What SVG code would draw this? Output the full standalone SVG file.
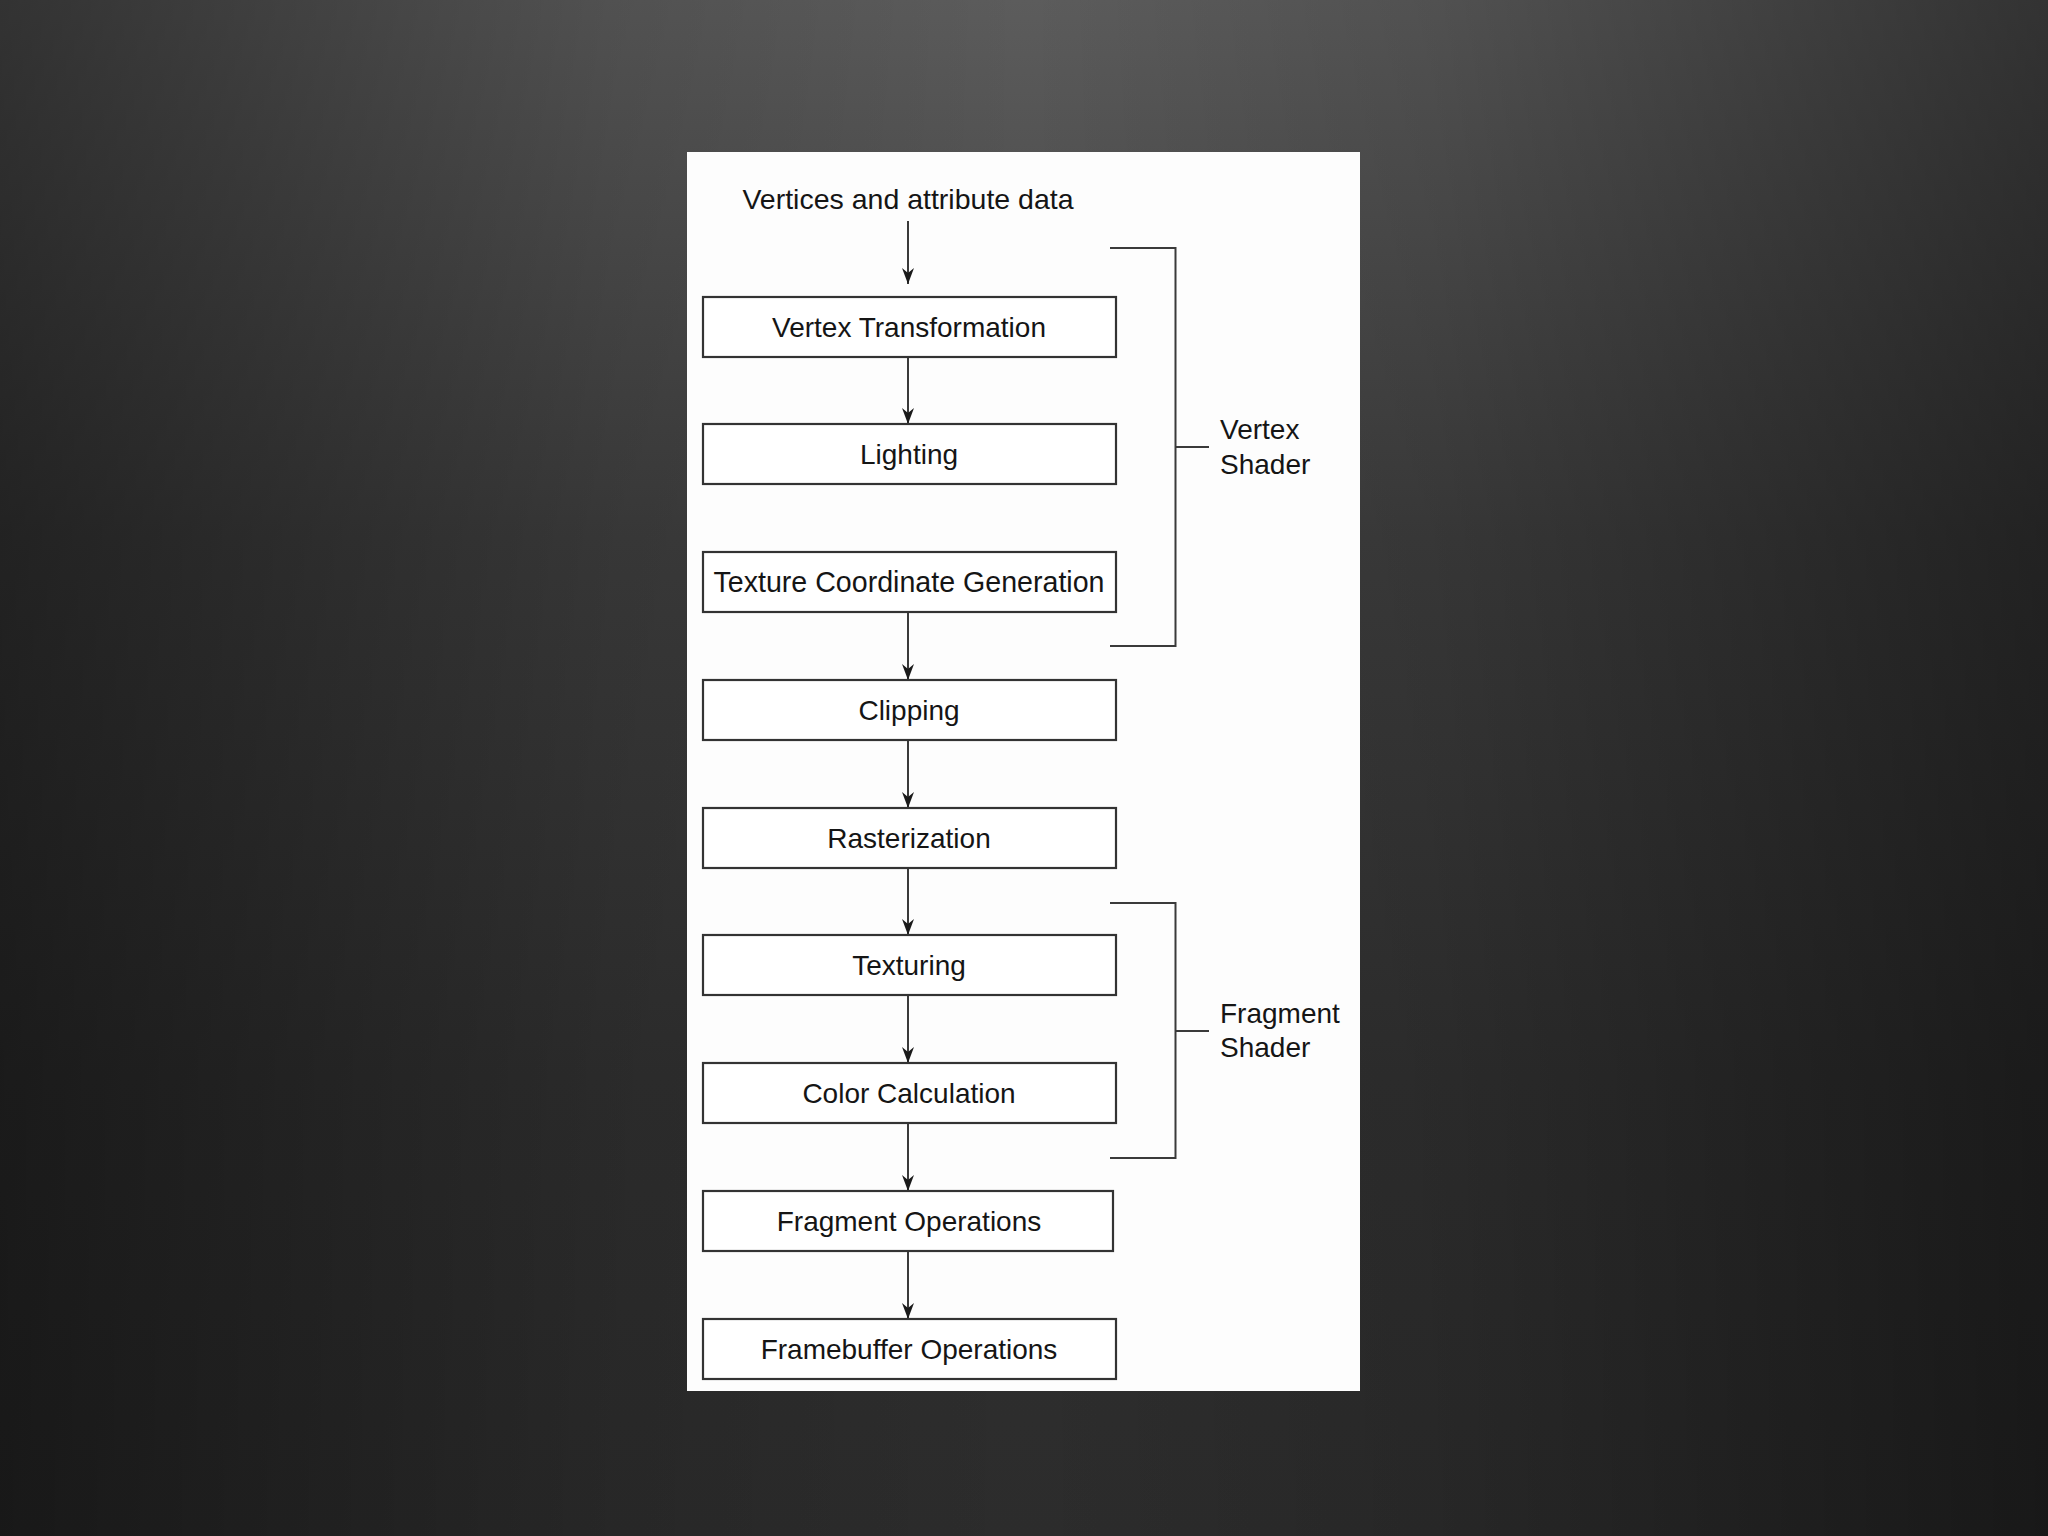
<svg xmlns="http://www.w3.org/2000/svg" width="2048" height="1536" viewBox="0 0 2048 1536">
  <defs>
    <linearGradient id="bgv" x1="0" y1="0" x2="0" y2="1">
      <stop offset="0" stop-color="#5c5c5c"/>
      <stop offset="0.35" stop-color="#3e3e3e"/>
      <stop offset="0.7" stop-color="#303030"/>
      <stop offset="1" stop-color="#2c2c2c"/>
    </linearGradient>
    <linearGradient id="bgh" x1="0" y1="0" x2="1" y2="0">
      <stop offset="0" stop-color="#000" stop-opacity="0.45"/>
      <stop offset="0.3" stop-color="#000" stop-opacity="0.12"/>
      <stop offset="0.5" stop-color="#000" stop-opacity="0"/>
      <stop offset="0.7" stop-color="#000" stop-opacity="0.12"/>
      <stop offset="1" stop-color="#000" stop-opacity="0.45"/>
    </linearGradient>
    <marker id="arrow" markerUnits="userSpaceOnUse" markerWidth="18" markerHeight="14" viewBox="-17 -7 18 14" refX="0" refY="0" orient="auto">
      <path d="M0,0 L-16,-6 L-11,0 L-16,6 Z" fill="#1a1a1a"/>
    </marker>
    <style>
      .box { fill: #ffffff; stroke: #333333; stroke-width: 2.2; }
      .lbl { font-family: "Liberation Sans", Arial, sans-serif; font-size: 28px; fill: #151515; text-anchor: middle; }
      .side { font-family: "Liberation Sans", Arial, sans-serif; font-size: 28px; fill: #151515; }
      .conn { stroke: #3a3a3a; stroke-width: 2; fill: none; }
    </style>
  </defs>
  <rect x="0" y="0" width="2048" height="1536" fill="url(#bgv)"/>
  <rect x="0" y="0" width="2048" height="1536" fill="url(#bgh)"/>
  <rect x="687" y="152" width="673" height="1239" fill="#fdfdfd"/>

  <text class="lbl" x="908" y="209" style="font-size:28.5px">Vertices and attribute data</text>

  <g id="connectors">
    <line class="conn" x1="908" y1="221" x2="908" y2="284" marker-end="url(#arrow)"/>
    <line class="conn" x1="908" y1="357" x2="908" y2="424" marker-end="url(#arrow)"/>
    <line class="conn" x1="908" y1="612" x2="908" y2="680" marker-end="url(#arrow)"/>
    <line class="conn" x1="908" y1="740" x2="908" y2="808" marker-end="url(#arrow)"/>
    <line class="conn" x1="908" y1="868" x2="908" y2="935" marker-end="url(#arrow)"/>
    <line class="conn" x1="908" y1="995" x2="908" y2="1063" marker-end="url(#arrow)"/>
    <line class="conn" x1="908" y1="1123" x2="908" y2="1191" marker-end="url(#arrow)"/>
    <line class="conn" x1="908" y1="1251" x2="908" y2="1319" marker-end="url(#arrow)"/>
  </g>

  <g id="vertex-shader-bracket">
    <path class="conn" d="M1110,248 H1175.5 V646 H1110 M1175.5,447 H1209"/>
    <text class="side" x="1220" y="439">Vertex</text>
    <text class="side" x="1220" y="474">Shader</text>
  </g>
  <g id="fragment-shader-bracket">
    <path class="conn" d="M1110,903 H1175.5 V1158 H1110 M1175.5,1031 H1209"/>
    <text class="side" x="1220" y="1023">Fragment</text>
    <text class="side" x="1220" y="1057">Shader</text>
  </g>

  <g id="vertex-transformation"><rect class="box" x="703" y="297" width="413" height="60"/><text class="lbl" x="909" y="337">Vertex Transformation</text></g>
  <g id="lighting"><rect class="box" x="703" y="424" width="413" height="60"/><text class="lbl" x="909" y="464">Lighting</text></g>
  <g id="texture-coordinate-generation"><rect class="box" x="703" y="552" width="413" height="60"/><text class="lbl" x="909" y="592" style="font-size:28.6px">Texture Coordinate Generation</text></g>
  <g id="clipping"><rect class="box" x="703" y="680" width="413" height="60"/><text class="lbl" x="909" y="720">Clipping</text></g>
  <g id="rasterization"><rect class="box" x="703" y="808" width="413" height="60"/><text class="lbl" x="909" y="848">Rasterization</text></g>
  <g id="texturing"><rect class="box" x="703" y="935" width="413" height="60"/><text class="lbl" x="909" y="975">Texturing</text></g>
  <g id="color-calculation"><rect class="box" x="703" y="1063" width="413" height="60"/><text class="lbl" x="909" y="1103">Color Calculation</text></g>
  <g id="fragment-operations"><rect class="box" x="703" y="1191" width="410" height="60"/><text class="lbl" x="909" y="1231">Fragment Operations</text></g>
  <g id="framebuffer-operations"><rect class="box" x="703" y="1319" width="413" height="60"/><text class="lbl" x="909" y="1359">Framebuffer Operations</text></g>
</svg>
